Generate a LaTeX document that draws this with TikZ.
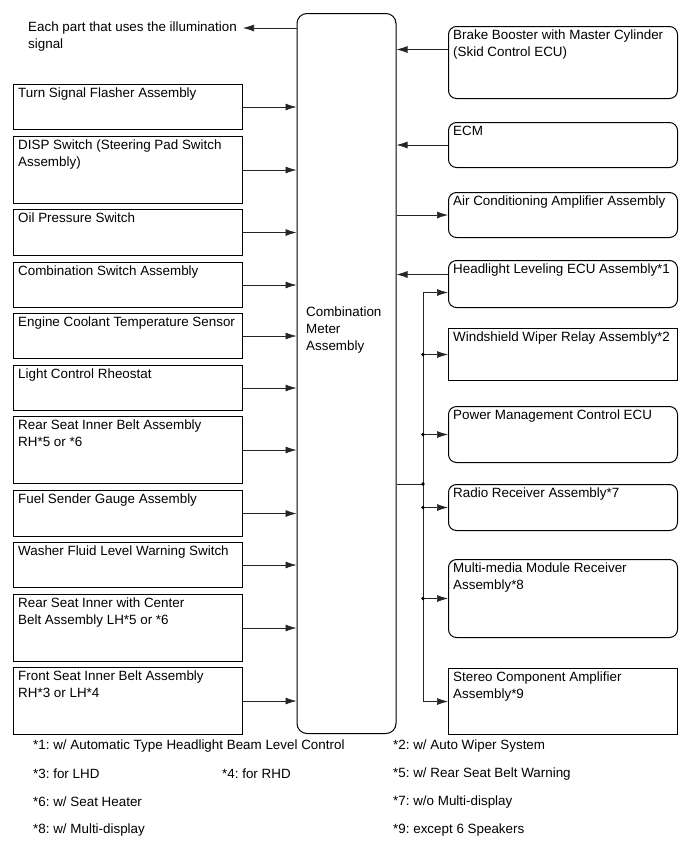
\documentclass[tikz,border=0pt]{standalone}
\usepackage{fontspec}
\setmainfont{Liberation Sans}
\usetikzlibrary{arrows.meta,calc}
\frenchspacing
\begin{document}
\begin{tikzpicture}[x=1pt,y=-1pt,
  box/.style={draw, line width=1pt, rectangle, minimum width=229pt, anchor=north west, inner sep=0pt},
  rbox/.style={box, rounded corners=8pt},
  txt/.style={anchor=north west, inner sep=0pt, align=left, font=\fontsize{13.4}{17}\selectfont},
  note/.style={anchor=west, inner sep=0pt, font=\fontsize{13.4}{17}\selectfont},
  conn/.style={draw, line width=0.7pt, black!85},
  arr/.style={conn, -{Latex[length=11pt,width=7pt]}},
  dot/.style={fill=black}
]
\useasboundingbox (0,0) rectangle (691,855);
% meter
\node[draw, line width=1pt, rounded corners=10pt, minimum width=99pt, minimum height=720pt, anchor=north west, inner sep=0pt] (meter) at (296.5,13) {};
\node[txt] (metertxt) at (306,306.5) {Combination\\Meter\\Assembly};

% illumination
\node[txt] (illum) at (28,21.5) {Each part that uses the illumination\\signal};
\coordinate (ilend) at (243,28);
\draw[arr] (ilend -| meter.west) -- (ilend);

% left boxes
\node[box, minimum height=45pt] (ts) at (13,84) {};
\node[txt] at ([xshift=5pt,yshift=-4pt]ts.north west) {Turn Signal Flasher Assembly};
\node[box, minimum height=67pt] (disp) at (13,136) {};
\node[txt] at ([xshift=5pt,yshift=-4pt]disp.north west) {DISP Switch (Steering Pad Switch\\Assembly)};
\node[box, minimum height=46pt] (oil) at (13,209) {};
\node[txt] at ([xshift=5pt,yshift=-4pt]oil.north west) {Oil Pressure Switch};
\node[box, minimum height=45pt] (comb) at (13,262) {};
\node[txt] at ([xshift=5pt,yshift=-4pt]comb.north west) {Combination Switch Assembly};
\node[box, minimum height=45pt] (eng) at (13,313) {};
\node[txt] at ([xshift=5pt,yshift=-4pt]eng.north west) {Engine Coolant Temperature Sensor};
\node[box, minimum height=45pt] (light) at (13,365) {};
\node[txt] at ([xshift=5pt,yshift=-4pt]light.north west) {Light Control Rheostat};
\node[box, minimum height=67pt] (rsin) at (13,416) {};
\node[txt] at ([xshift=5pt,yshift=-4pt]rsin.north west) {Rear Seat Inner Belt Assembly\\RH*5 or *6};
\node[box, minimum height=46pt] (fuel) at (13,490) {};
\node[txt] at ([xshift=5pt,yshift=-4pt]fuel.north west) {Fuel Sender Gauge Assembly};
\node[box, minimum height=45pt] (wash) at (13,542) {};
\node[txt] at ([xshift=5pt,yshift=-4pt]wash.north west) {Washer Fluid Level Warning Switch};
\node[box, minimum height=67pt] (rsc) at (13,594) {};
\node[txt] at ([xshift=5pt,yshift=-4pt]rsc.north west) {Rear Seat Inner with Center\\Belt Assembly LH*5 or *6};
\node[box, minimum height=67pt] (front) at (13,667) {};
\node[txt] at ([xshift=5pt,yshift=-4pt]front.north west) {Front Seat Inner Belt Assembly\\RH*3 or LH*4};

\foreach \b in {ts,disp,oil,comb,eng,light,rsin,fuel,wash,rsc,front}
  \draw[arr] (\b.east) -- (\b.east -| meter.west);

% right boxes
\node[rbox, minimum height=72pt] (brake) at (448,26) {};
\node[txt] at ([xshift=5pt,yshift=-4pt]brake.north west) {Brake Booster with Master Cylinder\\(Skid Control ECU)};
\node[rbox, minimum height=45pt] (ecm) at (448,122) {};
\node[txt] at ([xshift=5pt,yshift=-4pt]ecm.north west) {ECM};
\node[rbox, minimum height=45pt] (air) at (448,192) {};
\node[txt] at ([xshift=5pt,yshift=-4pt]air.north west) {Air Conditioning Amplifier Assembly};
\node[rbox, minimum height=47pt] (hl) at (448,260) {};
\node[txt] at ([xshift=5pt,yshift=-4pt]hl.north west) {Headlight Leveling ECU Assembly*1};
\node[box, minimum height=52pt] (wip) at (448,328) {};
\node[txt] at ([xshift=5pt,yshift=-4pt]wip.north west) {Windshield Wiper Relay Assembly*2};
\node[rbox, minimum height=56pt] (pm) at (448,406) {};
\node[txt] at ([xshift=5pt,yshift=-4pt]pm.north west) {Power Management Control ECU};
\node[rbox, minimum height=46pt] (radio) at (448,484) {};
\node[txt] at ([xshift=5pt,yshift=-4pt]radio.north west) {Radio Receiver Assembly*7};
\node[rbox, minimum height=78pt] (mm) at (448,559) {};
\node[txt] at ([xshift=5pt,yshift=-4pt]mm.north west) {Multi-media Module Receiver\\Assembly*8};
\node[box, minimum height=66pt] (st) at (448,668) {};
\node[txt] at ([xshift=5pt,yshift=-4pt]st.north west) {Stereo Component Amplifier\\Assembly*9};

\draw[arr] ([yshift=13pt]brake.west) -- ([yshift=13pt]brake.west -| meter.east);
\draw[arr] (ecm.west) -- (ecm.west -| meter.east);
\draw[arr] (air.west -| meter.east) -- (air.west);
\draw[arr] ([yshift=9.5pt]hl.west) -- ([yshift=9.5pt]hl.west -| meter.east);

% bus
\coordinate (bj) at (423,484);
\draw[conn] (bj -| meter.east) -- (bj);
\draw[arr] (bj) |- ([yshift=-8.5pt]hl.west);
\draw[arr] (bj) |- (st.west);
\foreach \b in {wip,pm,radio,mm}{
  \draw[arr] (bj |- \b.west) -- (\b.west);
  \fill[dot] (bj |- \b.west) circle (1.8pt);
}
\fill[dot] (bj) circle (1.8pt);

% notes
\node[note] (n1) at (33,746) {*1: w/ Automatic Type Headlight Beam Level Control};
\node[note] (n2) at (393,746) {*2: w/ Auto Wiper System};
\node[note] (n3) at (33,774) {*3: for LHD};
\node[note] (n4) at (222,774) {*4: for RHD};
\node[note] (n5) at (393,774) {*5: w/ Rear Seat Belt Warning};
\node[note] (n6) at (33,802) {*6: w/ Seat Heater};
\node[note] (n7) at (393,802) {*7: w/o Multi-display};
\node[note] (n8) at (33,830) {*8: w/ Multi-display};
\node[note] (n9) at (393,830) {*9: except 6 Speakers};
\end{tikzpicture}
\end{document}
